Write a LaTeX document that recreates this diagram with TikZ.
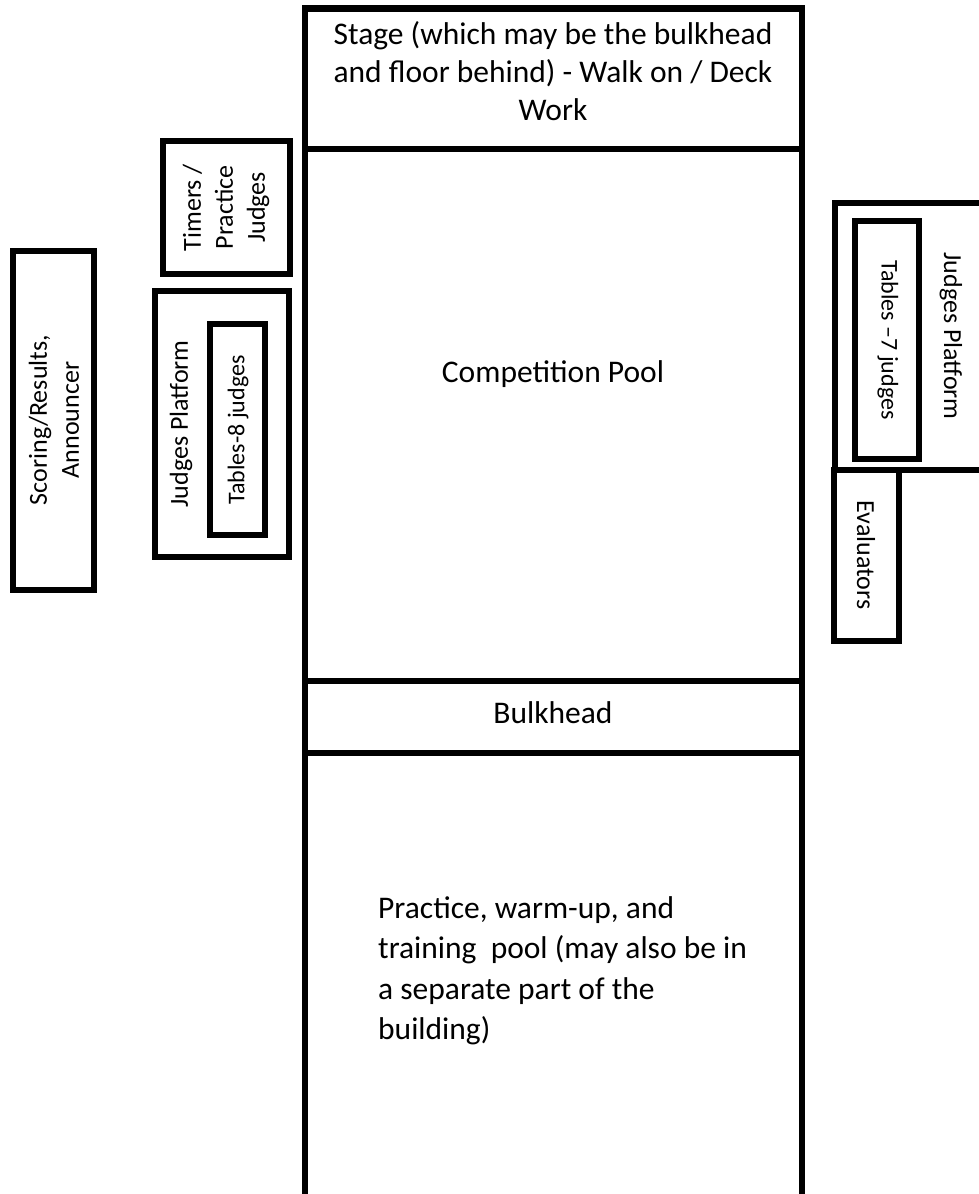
\documentclass[tikz,border=0pt]{standalone}
\usepackage{fontspec}
\setmainfont{Carlito}
\begin{document}
\begin{tikzpicture}[x=1pt,y=-1pt,
  wall/.style={draw=black,line width=6.5pt,line join=miter},
  bigtext/.style={font=\fontsize{31.5}{38}\selectfont,inner sep=0pt},
  sidetext/.style={font=\fontsize{26}{32}\selectfont,align=center,inner sep=0pt},
  tabletext/.style={font=\fontsize{24}{29}\selectfont,align=center,inner sep=0pt}]
\clip (0,0) rectangle (979,1194);
\fill[white] (0,0) rectangle (979,1194);

% main column
\draw[wall] (305,1210) -- (305,8.5) -- (802,8.5) -- (802,1210);
\draw[wall] (305,149) -- (802,149);
\draw[wall] (305,681) -- (802,681);
\draw[wall] (305,753) -- (802,753);

% side boxes
\draw[wall] (163,141) rectangle (290,274);
\draw[wall] (155,291) rectangle (289,557);
\draw[wall] (210,324) rectangle (265,535);
\draw[wall] (13,251) rectangle (94,590);
\draw[wall] (835,203) rectangle (1000,470);
\draw[wall] (855,221) rectangle (919,459);
\draw[wall] (834,470) rectangle (899,641);

% texts in the column
\node[bigtext,align=center] (stage) at (553,71)
  {Stage (which may be the bulkhead\\and floor behind) - Walk on / Deck\\Work};
\node[bigtext,anchor=base] (comp) at (553,382) {Competition Pool};
\node[bigtext,anchor=base] (bulk) at (553,723) {Bulkhead};
\node[bigtext,align=left,anchor=north west,font=\fontsize{31.5}{40.5}\selectfont] (prac) at (378,896)
  {Practice, warm-up, and\\training\ \ pool (may also be in\\a separate part of the\\building)};

% side texts
\node[sidetext,rotate=90] (timers) at (226,207.5) {Timers /\\Practice\\Judges};
\node[sidetext,rotate=90] (lplat) at (181,424) {Judges Platform};
\node[tabletext,rotate=90] (t8) at (238,430) {Tables-8 judges};
\node[sidetext,rotate=90] (score) at (54,420) {Scoring/Results,\\Announcer};
\node[sidetext,rotate=-90] (rplat) at (951,336) {Judges Platform};
\node[tabletext,rotate=-90] (t7) at (888,340) {Tables –7 judges};
\node[sidetext,rotate=-90] (eval) at (866,555) {Evaluators};
\end{tikzpicture}
\end{document}
